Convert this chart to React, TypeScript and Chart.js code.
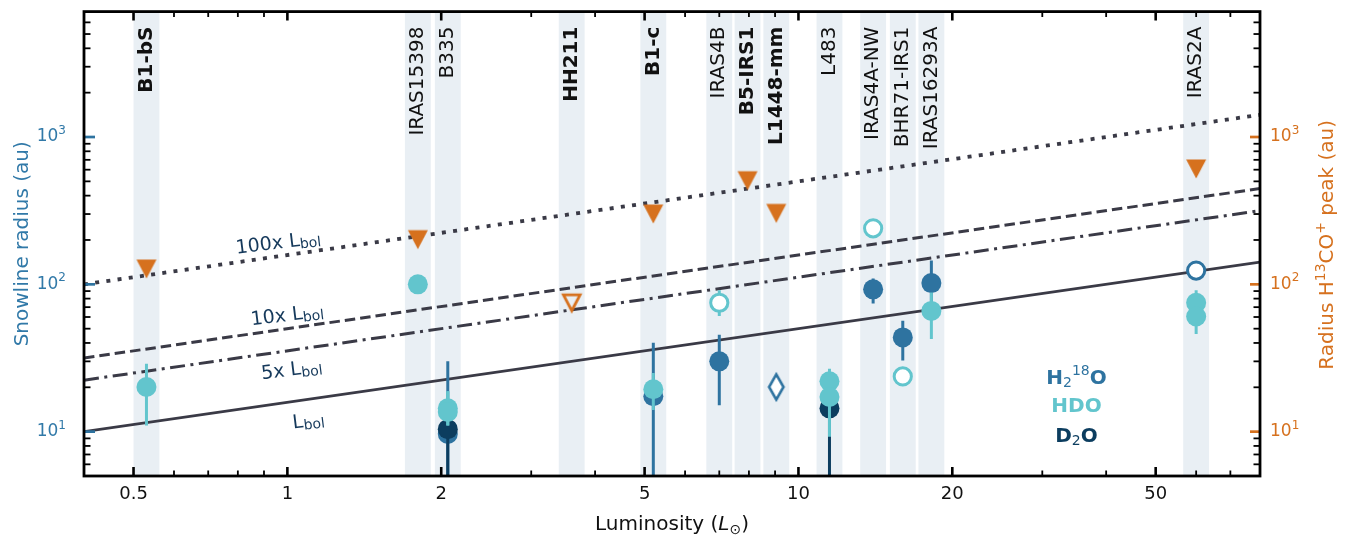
import React, { useEffect, useRef } from "react";
import { Chart, registerables } from "chart.js";

Chart.register(...registerables);

// ---------------- data ----------------
const sourceNames = ["B1-bS", "IRAS15398", "B335", "HH211", "B1-c", "IRAS4B", "B5-IRS1", "L1448-mm", "L483", "IRAS4A-NW", "BHR71-IRS1", "IRAS16293A", "IRAS2A"];
const sourceLum = [0.53, 1.8, 2.06, 3.6, 5.2, 7.0, 7.95, 9.05, 11.5, 14.0, 16.0, 18.2, 60];
const boldSources = ["B1-bS", "HH211", "B1-c", "B5-IRS1", "L1448-mm"];

// snowline relations (end points at the plot limits)
const lineL = [0.4, 80];
const lineLbol = [10, 141.4];
const line5Lbol = [22.36, 316.2];
const line10Lbol = [31.62, 447.2];
const line100Lbol = [100, 1414];

// H2 18O detections
const h218oL = [2.06, 5.2, 7.0, 14.0, 16.0, 18.2];
const h218oR = [9.65, 17.4, 30.0, 92.5, 43.6, 102];
const h218oLo = [2, 2, 15.1, 74, 30.4, 75];
const h218oHi = [30, 40.2, 45.4, 109.5, 56.5, 145];

// D2O detections
const d2oL = [2.06, 11.5];
const d2oR = [10.4, 14.4];
const d2oLo = [2, 2];
const d2oHi = [12, 16];

// HDO detections
const hdoL = [0.53, 1.8, 2.06, 2.06, 5.2, 11.5, 11.5, 18.2, 60, 60];
const hdoR = [20.1, 100, 14.4, 13.6, 19.4, 22.0, 17.2, 66, 75, 60.5];
const hdoLo = [11, 100, 11, 11, 14, 17, 9.25, 42.6, 60, 46];
const hdoHi = [28.9, 100, 18.8, 18.8, 25, 26.7, 22, 88, 91, 75];

// HDO (open)
const hdoOpenL = [7.0, 14.0, 16.0];
const hdoOpenR = [75, 240, 23.7];
const hdoOpenLo = [61, 240, 23.7];
const hdoOpenHi = [91, 240, 23.7];

// H2 18O (open circle / open diamond)
const h218oOpenL = [60];
const h218oOpenR = [124];
const h218oDiamondL = [9.05];
const h218oDiamondR = [20.1];

// H13CO+ peak radius
const h13coL = [0.53, 1.8, 5.2, 7.95, 9.05, 60];
const h13coR = [127, 201, 300, 505, 303, 607];
const h13coOpenL = [3.6];
const h13coOpenR = [75];

// axes
const xTicks = [0.5, 1, 2, 5, 10, 20, 50];
const xTickLabels = ["0.5", "1", "2", "5", "10", "20", "50"];
const xMinorTicks = [0.6, 0.7, 0.8, 0.9, 3, 4, 6, 7, 8, 9, 30, 40, 60, 70];
const yTicks = [10, 100, 1000];
const yTickExp = ["1", "2", "3"];
const yMinorTicks = [6, 7, 8, 9, 20, 30, 40, 50, 60, 70, 80, 90, 200, 300, 400, 500, 600, 700, 800, 900, 2000, 3000, 4000, 5000, 6000];

// annotations
const lineLabelText = ["100x ", "10x ", "5x ", ""];
const lineLabelL = [0.96, 1.0, 1.02, 1.1];
const lineLabelR = [189, 61, 26, 11.7];
const legendL = 35;
const legendR = [23, 14.7, 9.25];

// ---------------- style ----------------
const FAM = '"DejaVu Sans"';
const C_H218O = "#2e73a0";
const C_HDO = "#62c5cd";
const C_D2O = "#0c3d5f";
const C_ORANGE = "#d6711e";
const C_LINE = "#3a3a46";
const C_BAND = "#e9eff4";
const C_NAVY = "#15395b";
const C_AXBLUE = "#3179a8";
const BAND_F = 1.06;

function triCanvas(filled: boolean, color: string, w: number, h: number, lw: number) {
  const S = 26;
  const c = document.createElement("canvas");
  c.width = S;
  c.height = S;
  const g = c.getContext("2d")!;
  const cx = S / 2, cy = S / 2;
  const ww = filled ? w : w - lw * 1.2;
  const hh = filled ? h : h - lw * 1.1;
  g.beginPath();
  g.moveTo(cx - ww / 2, cy - hh / 2);
  g.lineTo(cx + ww / 2, cy - hh / 2);
  g.lineTo(cx, cy + hh / 2);
  g.closePath();
  if (filled) {
    g.fillStyle = color;
    g.fill();
  } else {
    g.strokeStyle = color;
    g.lineWidth = lw;
    g.lineJoin = "miter";
    g.stroke();
  }
  return c;
}

function diamondCanvas(color: string, w: number, h: number, lw: number) {
  const W = 24, H = 34;
  const c = document.createElement("canvas");
  c.width = W;
  c.height = H;
  const g = c.getContext("2d")!;
  const cx = W / 2, cy = H / 2;
  const ww = w - lw, hh = h - lw;
  g.beginPath();
  g.moveTo(cx, cy - hh / 2);
  g.lineTo(cx + ww / 2, cy);
  g.lineTo(cx, cy + hh / 2);
  g.lineTo(cx - ww / 2, cy);
  g.closePath();
  g.fillStyle = "#fff";
  g.fill();
  g.strokeStyle = color;
  g.lineWidth = lw;
  g.stroke();
  return c;
}

type Run = { t: string; f: string; dy?: number };
function drawRuns(ctx: CanvasRenderingContext2D, runs: Run[], x: number, y: number, color: string, align: "center" | "left" | "right" = "center") {
  const widths = runs.map((r) => {
    ctx.font = r.f;
    return ctx.measureText(r.t).width;
  });
  const total = widths.reduce((a, b) => a + b, 0);
  let cx = align === "center" ? x - total / 2 : align === "right" ? x - total : x;
  ctx.fillStyle = color;
  ctx.textAlign = "left";
  runs.forEach((r, i) => {
    ctx.font = r.f;
    ctx.fillText(r.t, cx, y + (r.dy || 0));
    cx += widths[i];
  });
}

const pts = (xs: number[], ys: number[]) => xs.map((x, i) => ({ x, y: ys[i] }));

const decoPlugin = {
  id: "deco",
  beforeDatasetsDraw(chart: any) {
    const { ctx, chartArea: a, scales } = chart;
    const xs = scales.x;
    ctx.save();
    ctx.fillStyle = C_BAND;
    sourceLum.forEach((L) => {
      const x0 = xs.getPixelForValue(L / BAND_F);
      const x1 = xs.getPixelForValue(L * BAND_F);
      ctx.fillRect(x0, a.top, x1 - x0, a.bottom - a.top);
    });
    // source labels
    sourceNames.forEach((name, i) => {
      const px = xs.getPixelForValue(sourceLum[i]);
      ctx.save();
      ctx.translate(px, a.top + 15);
      ctx.rotate(-Math.PI / 2);
      ctx.font = (boldSources.includes(name) ? "bold " : "") + "20px " + FAM;
      ctx.fillStyle = "#111";
      ctx.textAlign = "right";
      ctx.textBaseline = "middle";
      ctx.fillText(name, 0, 0);
      ctx.restore();
    });
    ctx.restore();
  },
  beforeDatasetDraw(chart: any, args: any) {
    const ds = chart.data.datasets[args.index];
    if (!ds.errLo) return;
    const { ctx, chartArea: a, scales } = chart;
    const xs = scales.x;
    const ys = scales[ds.yAxisID || "y"];
    ctx.save();
    ctx.beginPath();
    ctx.rect(a.left, a.top, a.right - a.left, a.bottom - a.top);
    ctx.clip();
    ctx.strokeStyle = ds.errColor;
    ctx.lineWidth = 3;
    ctx.lineCap = "butt";
    ds.data.forEach((p: any, i: number) => {
      const lo = ds.errLo[i], hi = ds.errHi[i];
      if (lo === hi) return;
      const px = xs.getPixelForValue(p.x);
      ctx.beginPath();
      ctx.moveTo(px, ys.getPixelForValue(lo));
      ctx.lineTo(px, ys.getPixelForValue(hi));
      ctx.stroke();
    });
    ctx.restore();
  },
  afterDraw(chart: any) {
    const { ctx, chartArea: a, scales } = chart;
    const xs = scales.x, ys = scales.y, ys2 = scales.y2;
    ctx.save();
    // ticks (inward)
    const vTick = (v: number, len: number, w: number, color: string) => {
      const px = xs.getPixelForValue(v);
      ctx.strokeStyle = color;
      ctx.lineWidth = w;
      ctx.beginPath();
      ctx.moveTo(px, a.bottom);
      ctx.lineTo(px, a.bottom - len);
      ctx.moveTo(px, a.top);
      ctx.lineTo(px, a.top + len);
      ctx.stroke();
    };
    xTicks.forEach((v) => vTick(v, 9, 2.6, "#000"));
    xMinorTicks.forEach((v) => vTick(v, 5.5, 1.8, "#000"));
    const hTick = (scale: any, v: number, side: "l" | "r", len: number, w: number, color: string) => {
      const py = scale.getPixelForValue(v);
      ctx.strokeStyle = color;
      ctx.lineWidth = w;
      ctx.beginPath();
      if (side === "l") {
        ctx.moveTo(a.left, py);
        ctx.lineTo(a.left + len, py);
      } else {
        ctx.moveTo(a.right, py);
        ctx.lineTo(a.right - len, py);
      }
      ctx.stroke();
    };
    yMinorTicks.forEach((v) => {
      hTick(ys, v, "l", 6.5, 1.8, "#000");
      hTick(ys2, v, "r", 6.5, 1.8, "#000");
    });
    yTicks.forEach((v) => {
      hTick(ys, v, "l", 11, 2.7, C_H218O);
      hTick(ys2, v, "r", 10, 2.7, C_ORANGE);
    });
    // frame
    ctx.strokeStyle = "#000";
    ctx.lineWidth = 2.8;
    ctx.strokeRect(a.left, a.top, a.right - a.left, a.bottom - a.top);

    // y tick labels (10^n)
    ctx.textBaseline = "middle";
    yTicks.forEach((v, i) => {
      const runs: Run[] = [
        { t: "10", f: "17px " + FAM },
        { t: yTickExp[i], f: "12px " + FAM, dy: -6 },
      ];
      drawRuns(ctx, runs, a.left - 18, ys.getPixelForValue(v), C_AXBLUE, "right");
      drawRuns(ctx, runs, a.right + 10, ys2.getPixelForValue(v), C_ORANGE, "left");
    });

    // axis titles
    const cy = (a.top + a.bottom) / 2;
    ctx.textBaseline = "alphabetic";
    ctx.save();
    ctx.translate(28, cy);
    ctx.rotate(-Math.PI / 2);
    ctx.font = "20px " + FAM;
    ctx.fillStyle = C_AXBLUE;
    ctx.textAlign = "center";
    ctx.fillText("Snowline radius (au)", 0, 0);
    ctx.restore();

    ctx.save();
    ctx.translate(a.right + 73, cy + 1);
    ctx.rotate(-Math.PI / 2);
    drawRuns(
      ctx,
      [
        { t: "Radius H", f: "20px " + FAM },
        { t: "13", f: "14px " + FAM, dy: -8 },
        { t: "CO", f: "20px " + FAM },
        { t: "+", f: "14px " + FAM, dy: -8 },
        { t: " peak (au)", f: "20px " + FAM },
      ],
      0,
      0,
      C_ORANGE
    );
    ctx.restore();

    drawRuns(
      ctx,
      [
        { t: "Luminosity (", f: "20px " + FAM },
        { t: "L", f: "italic 20px " + FAM },
        { t: "\u2299", f: "14px " + FAM, dy: 4 },
        { t: ")", f: "20px " + FAM },
      ],
      (a.left + a.right) / 2,
      a.bottom + 54,
      "#111"
    );

    // line labels
    ctx.textBaseline = "middle";
    lineLabelText.forEach((t, i) => {
      const px = xs.getPixelForValue(lineLabelL[i]);
      const py = ys.getPixelForValue(lineLabelR[i]);
      ctx.save();
      ctx.translate(px, py);
      ctx.rotate((-7 * Math.PI) / 180);
      const runs: Run[] = [];
      if (t) runs.push({ t, f: "19px " + FAM });
      runs.push({ t: "L", f: "19px " + FAM });
      runs.push({ t: "bol", f: "14px " + FAM, dy: 4 });
      drawRuns(ctx, runs, 0, 0, C_NAVY);
      ctx.restore();
    });

    // legend texts
    const lx = xs.getPixelForValue(legendL);
    drawRuns(
      ctx,
      [
        { t: "H", f: "bold 20px " + FAM },
        { t: "2", f: "14px " + FAM, dy: 5 },
        { t: "18", f: "14px " + FAM, dy: -7 },
        { t: "O", f: "bold 20px " + FAM },
      ],
      lx,
      ys.getPixelForValue(legendR[0]),
      C_H218O
    );
    drawRuns(ctx, [{ t: "HDO", f: "bold 20px " + FAM }], lx, ys.getPixelForValue(legendR[1]), C_HDO);
    drawRuns(
      ctx,
      [
        { t: "D", f: "bold 20px " + FAM },
        { t: "2", f: "14px " + FAM, dy: 5 },
        { t: "O", f: "bold 20px " + FAM },
      ],
      lx,
      ys.getPixelForValue(legendR[2]),
      C_D2O
    );
    ctx.restore();
  },
};

export default function App() {
  const ref = useRef<HTMLCanvasElement>(null);
  useEffect(() => {
    const canvas = ref.current;
    if (!canvas) return;
    Chart.defaults.font.family = "DejaVu Sans";

    const lineDs = (ys: number[], dash: number[], width: number) => ({
      type: "scatter",
      data: pts(lineL, ys),
      showLine: true,
      borderColor: C_LINE,
      borderWidth: width,
      borderDash: dash,
      borderCapStyle: "butt",
      pointRadius: 0,
      pointHoverRadius: 0,
      fill: false,
      order: 20,
      yAxisID: "y",
    });

    const triFilled = triCanvas(true, C_ORANGE, 20, 19, 0);
    const triOpen = triCanvas(false, C_ORANGE, 20, 19, 2.8);
    const diamond = diamondCanvas(C_H218O, 17, 28, 2.6);

    const datasets: any[] = [
      lineDs(lineLbol, [], 2.7),
      lineDs(line5Lbol, [15, 5.5, 3, 5.5], 3),
      lineDs(line10Lbol, [10.5, 5], 3),
      lineDs(line100Lbol, [4, 7.3], 3.8),
      {
        data: pts(h218oL, h218oR),
        errLo: h218oLo,
        errHi: h218oHi,
        errColor: C_H218O,
        pointStyle: "circle",
        pointRadius: 10,
        pointBackgroundColor: C_H218O,
        pointBorderWidth: 0,
        pointBorderColor: C_H218O,
        order: 10,
        yAxisID: "y",
      },
      {
        data: pts(d2oL, d2oR),
        errLo: d2oLo,
        errHi: d2oHi,
        errColor: C_D2O,
        pointStyle: "circle",
        pointRadius: 10,
        pointBackgroundColor: C_D2O,
        pointBorderWidth: 0,
        pointBorderColor: C_D2O,
        order: 9,
        yAxisID: "y",
      },
      {
        data: pts(hdoL, hdoR),
        errLo: hdoLo,
        errHi: hdoHi,
        errColor: C_HDO,
        pointStyle: "circle",
        pointRadius: 10,
        pointBackgroundColor: C_HDO,
        pointBorderWidth: 0,
        pointBorderColor: C_HDO,
        order: 8,
        yAxisID: "y",
      },
      {
        data: pts(hdoOpenL, hdoOpenR),
        errLo: hdoOpenLo,
        errHi: hdoOpenHi,
        errColor: C_HDO,
        pointStyle: "circle",
        pointRadius: 8.6,
        pointBackgroundColor: "#fff",
        pointBorderWidth: 3,
        pointBorderColor: C_HDO,
        order: 6,
        yAxisID: "y",
      },
      {
        data: pts(h218oOpenL, h218oOpenR),
        pointStyle: "circle",
        pointRadius: 8.6,
        pointBackgroundColor: "#fff",
        pointBorderWidth: 3,
        pointBorderColor: C_H218O,
        order: 6,
        yAxisID: "y",
      },
      {
        data: pts(h218oDiamondL, h218oDiamondR),
        pointStyle: diamond,
        pointRadius: 10,
        order: 6,
        yAxisID: "y",
      },
      {
        data: pts(h13coL, h13coR),
        pointStyle: triFilled,
        pointRadius: 10,
        order: 5,
        yAxisID: "y2",
      },
      {
        data: pts(h13coOpenL, h13coOpenR),
        pointStyle: triOpen,
        pointRadius: 10,
        order: 5,
        yAxisID: "y2",
      },
    ];

    const chart = new Chart(canvas, {
      type: "scatter",
      data: { datasets },
      options: {
        animation: false,
        responsive: false,
        events: [],
        layout: { padding: { top: 8, left: 0, right: 0, bottom: 0 } },
        plugins: { legend: { display: false }, tooltip: { enabled: false } },
        scales: {
          x: {
            type: "logarithmic",
            position: "bottom",
            min: 0.4,
            max: 80,
            grid: { display: false, drawTicks: false },
            border: { display: false },
            afterBuildTicks: (s: any) => {
              s.ticks = xTicks.map((v) => ({ value: v }));
            },
            afterFit: (s: any) => {
              s.height = 59;
              s.paddingLeft = 0;
              s.paddingRight = 0;
            },
            ticks: {
              autoSkip: false,
              maxRotation: 0,
              minRotation: 0,
              padding: 8,
              color: "#111",
              font: { family: "DejaVu Sans", size: 18 },
              callback: (v: any) => {
                const i = xTicks.indexOf(Number(v));
                return i >= 0 ? xTickLabels[i] : "";
              },
            },
          },
          y: {
            type: "logarithmic",
            position: "left",
            min: 5,
            max: 7100,
            grid: { display: false, drawTicks: false },
            border: { display: false },
            afterBuildTicks: (s: any) => {
              s.ticks = yTicks.map((v) => ({ value: v }));
            },
            afterFit: (s: any) => {
              s.width = 84;
              s.paddingTop = 0;
              s.paddingBottom = 0;
            },
            ticks: { display: false },
          },
          y2: {
            type: "logarithmic",
            position: "right",
            min: 5,
            max: 7100,
            grid: { display: false, drawTicks: false },
            border: { display: false },
            afterBuildTicks: (s: any) => {
              s.ticks = yTicks.map((v) => ({ value: v }));
            },
            afterFit: (s: any) => {
              s.width = 87;
              s.paddingTop = 0;
              s.paddingBottom = 0;
            },
            ticks: { display: false },
          },
        },
      } as any,
      plugins: [decoPlugin as any],
    });
    return () => chart.destroy();
  }, []);

  return (
    <div style={{ position: "fixed", left: 0, top: 0, width: 1347, height: 535, background: "#fff" }}>
      <canvas ref={ref} width={1347} height={535} style={{ display: "block", width: 1347, height: 535 }} />
    </div>
  );
}
